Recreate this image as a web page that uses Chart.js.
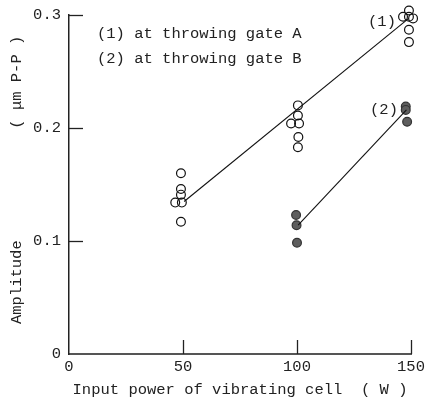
<!DOCTYPE html>
<html>
<head>
<meta charset="utf-8">
<script src="https://cdn.jsdelivr.net/npm/chart.js@4/dist/chart.umd.min.js"></script>
<style>
  html, body { margin: 0; padding: 0; background: #fff; }
  #wrap { width: 426px; height: 401px; }
</style>
</head>
<body>
<div id="wrap"><canvas id="chart"></canvas></div>
<script>
// input power (W) and amplitude (um P-P), gate A (open circles)
var powerA = [49.1, 49.1, 49.1, 46.6, 49.5, 49.1,
              100.4, 100.4, 97.4, 100.9, 100.6, 100.4,
              149.1, 146.5, 149.1, 150.9, 149.1, 149.1];
var ampA   = [0.160, 0.146, 0.141, 0.134, 0.134, 0.117,
              0.220, 0.211, 0.204, 0.204, 0.192, 0.183,
              0.304, 0.2985, 0.2985, 0.297, 0.287, 0.276];

// gate B (filled circles)
var powerB = [99.6, 99.8, 100.0, 147.7, 147.7, 148.3];
var ampB   = [0.123, 0.114, 0.0985, 0.219, 0.216, 0.2055];

// fitted lines
var fitPowerA = [50.5, 149];
var fitAmpA   = [0.135, 0.297];
var fitPowerB = [100.5, 148];
var fitAmpB   = [0.114, 0.216];

var xTicks = [0, 50, 100, 150];
var yTicks = [0, 0.1, 0.2, 0.3];

var FONT = "'Liberation Mono', 'DejaVu Sans Mono', monospace";
var FSIZE = 15.5;

function pts(xs, ys) {
    return xs.map(function (x, i) { return { x: x, y: ys[i] }; });
}

// inward tick marks and text notes
var extras = {
    id: 'extras',
    afterDraw: function (chart) {
        var ctx = chart.ctx;
        var xs = chart.scales.x, ys = chart.scales.y;
        var a = chart.chartArea;
        ctx.save();
        ctx.strokeStyle = '#222';
        ctx.lineWidth = 1.3;
        yTicks.forEach(function (v) {
            if (v === 0) return;
            var y = Math.round(ys.getPixelForValue(v)) + 0.5;
            ctx.beginPath();
            ctx.moveTo(a.left, y);
            ctx.lineTo(a.left + 14, y);
            ctx.stroke();
        });
        xTicks.forEach(function (v) {
            if (v === 0) return;
            var x = Math.round(xs.getPixelForValue(v)) + 0.5;
            ctx.beginPath();
            ctx.moveTo(x, a.bottom);
            ctx.lineTo(x, a.bottom - 14);
            ctx.stroke();
        });
        ctx.fillStyle = '#222';
        ctx.font = FSIZE + 'px ' + FONT;
        ctx.textBaseline = 'middle';
        ctx.textAlign = 'left';
        ctx.fillText('(1) at throwing gate A', 97, 34);
        ctx.fillText('(2) at throwing gate B', 97, 59);
        ctx.textAlign = 'center';
        ctx.fillText('(1)', 382, 22);
        ctx.fillText('(2)', 384, 110);
        ctx.restore();
    }
};

new Chart(document.getElementById('chart'), {
    type: 'scatter',
    data: {
        datasets: [
            {
                label: 'fit A', type: 'line', data: pts(fitPowerA, fitAmpA), clip: false,
                borderColor: '#111', borderWidth: 1.1, pointRadius: 0, fill: false
            },
            {
                label: 'fit B', type: 'line', data: pts(fitPowerB, fitAmpB), clip: false,
                borderColor: '#111', borderWidth: 1.1, pointRadius: 0, fill: false
            },
            {
                label: 'gate A', data: pts(powerA, ampA), clip: false,
                pointRadius: 4.4, pointBorderWidth: 1.2,
                pointBorderColor: '#111', pointBackgroundColor: 'rgba(255,255,255,0)'
            },
            {
                label: 'gate B', data: pts(powerB, ampB), clip: false,
                pointRadius: 4.4, pointBorderWidth: 1.2,
                pointBorderColor: '#333', pointBackgroundColor: '#5e5e5e'
            }
        ]
    },
    options: {
        responsive: true,
        maintainAspectRatio: false,
        animation: false,
        layout: { padding: { top: 15, right: 15, left: 0, bottom: 0 } },
        plugins: { legend: { display: false }, tooltip: { enabled: false } },
        scales: {
            x: {
                type: 'linear', min: 0, max: 150,
                grid: { display: false, drawTicks: false },
                border: { display: true, color: '#555', width: 2 },
                afterBuildTicks: function (s) { s.ticks = xTicks.map(function (v) { return { value: v }; }); },
                afterFit: function (s) { s.height = 47; s.paddingLeft = 0; s.paddingRight = 0; },
                ticks: { color: '#222', font: { family: FONT, size: FSIZE }, padding: 4, maxRotation: 0 },
                title: {
                    display: true, text: 'Input power of vibrating cell  ( W )',
                    color: '#222', font: { family: FONT, size: FSIZE }, padding: { top: 2, bottom: 2 }
                }
            },
            y: {
                type: 'linear', min: 0, max: 0.3,
                grid: { display: false, drawTicks: false },
                border: { display: true, color: '#222', width: 1.5 },
                afterBuildTicks: function (s) { s.ticks = yTicks.map(function (v) { return { value: v }; }); },
                afterFit: function (s) { s.width = 69; s.paddingTop = 0; s.paddingBottom = 0; },
                ticks: { color: '#222', font: { family: FONT, size: FSIZE }, padding: 8 },
                title: {
                    display: true, text: ' Amplitude            ( \u03bcm P-P )',
                    color: '#222', font: { family: FONT, size: FSIZE }, padding: { top: 8, bottom: 0 }
                }
            }
        }
    },
    plugins: [extras]
});
</script>
</body>
</html>
